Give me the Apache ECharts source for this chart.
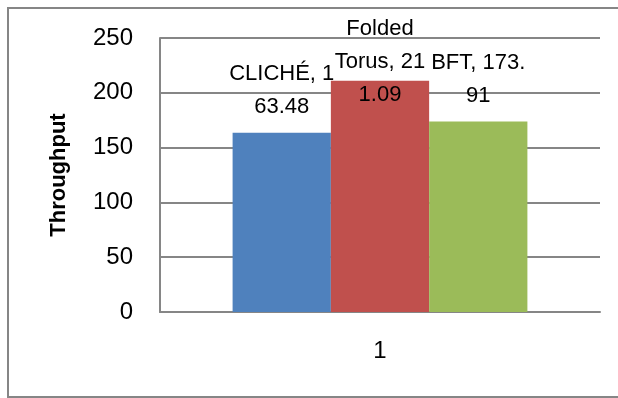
<!DOCTYPE html>
<html lang="en">
	<head>
		<meta charset="utf-8">
		<title>Throughput</title>
		<style>
			html, body{
				margin: 0;
				padding: 0;
				background: #fff;
			}
			#main{
				width: 618px;
				height: 398px;
			}
		</style>
	</head>
	<body>
		<div id="main"></div>

		<script src="https://cdn.jsdelivr.net/npm/echarts@6/dist/echarts.min.js"></script>
		<script>
			// chart data
			var categories = ['1'];
			var seriesNames = ['CLICHÉ', 'Folded Torus', 'BFT'];
			var seriesValues = [163.48, 211.09, 173.91];
			var seriesColors = ['#4F81BD', '#C0504D', '#9BBB59'];
			var yTicks = [0, 50, 100, 150, 200, 250];
			// where the wrapped data labels break (character index in "name, value")
			var labelBreaks = [[9], [6, 16], [9]];
			var labelShift = [0, 40, 0];

			function wrapLabel(text, breaks) {
				var lines = [];
				var start = 0;
				for (var i = 0; i < breaks.length; i++) {
					lines.push(text.slice(start, breaks[i]).trim());
					start = breaks[i];
				}
				lines.push(text.slice(start).trim());
				return lines.join('\n');
			}

			var font = 'Liberation Sans';
			var gray = '#868686';

			var series = [];
			for (var i = 0; i < seriesNames.length; i++) {
				(function(idx) {
					series.push({
						name: seriesNames[idx],
						type: 'bar',
						barGap: 0,
						barCategoryGap: '33%',
						itemStyle: { color: seriesColors[idx] },
						label: {
							show: true,
							position: 'top',
							distance: 9,
							offset: [0, labelShift[idx]],
							fontFamily: font,
							fontSize: 22,
							lineHeight: 33,
							color: '#000',
							formatter: function(p) {
								return wrapLabel(p.seriesName + ', ' + p.value, labelBreaks[idx]);
							}
						},
						data: [seriesValues[idx]]
					});
				})(i);
			}

			var myChart = echarts.init(document.getElementById('main'));
			var option = {
				animation: false,
				backgroundColor: '#fff',
				graphic: [{
					type: 'rect',
					shape: { x: 8, y: 8, width: 620, height: 389 },
					style: { fill: 'none', stroke: gray, lineWidth: 2 },
					silent: true
				}],
				grid: {
					left: 160,
					right: 18,
					top: 38,
					bottom: 86
				},
				xAxis: {
					type: 'category',
					data: categories,
					axisLine: { lineStyle: { color: gray, width: 2 } },
					axisTick: { show: false },
					axisLabel: {
						margin: 27,
						fontFamily: font,
						fontSize: 24,
						color: '#000'
					}
				},
				yAxis: {
					type: 'value',
					min: yTicks[0],
					max: yTicks[yTicks.length - 1],
					interval: yTicks[1] - yTicks[0],
					name: 'Throughput',
					nameLocation: 'middle',
					nameGap: 90,
					nameTextStyle: {
						fontFamily: font,
						fontWeight: 'bold',
						fontSize: 22,
						color: '#000'
					},
					axisLine: { show: true, lineStyle: { color: gray, width: 2 } },
					axisTick: { show: false },
					splitLine: { lineStyle: { color: gray, width: 2 } },
					axisLabel: {
						margin: 27,
						fontFamily: font,
						fontSize: 24,
						color: '#000'
					}
				},
				series: series
			};
			myChart.setOption(option);
		</script>
	</body>
</html>
